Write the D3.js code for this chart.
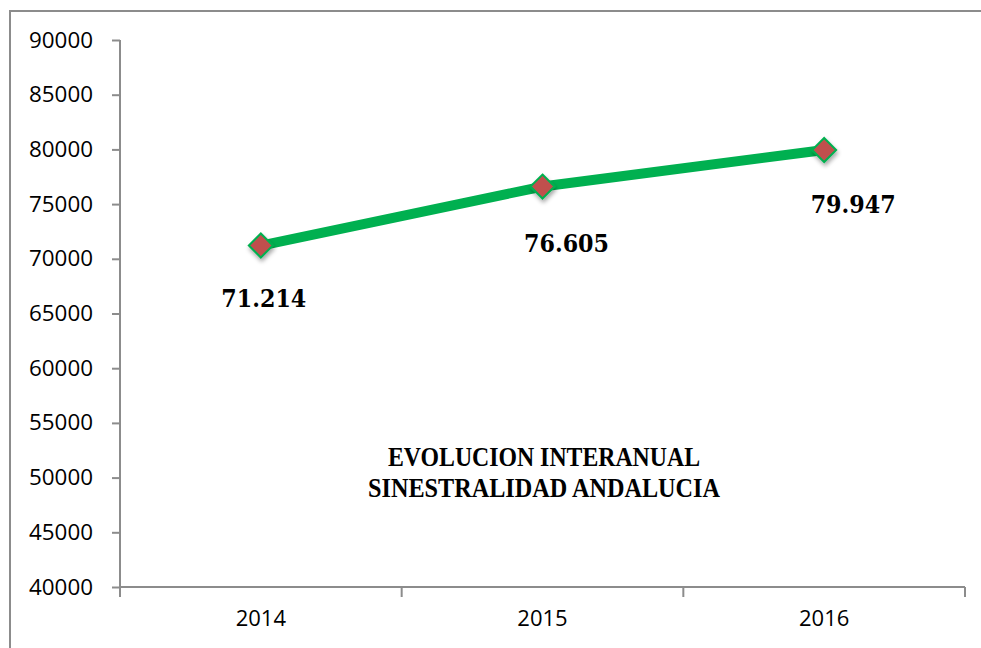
<!DOCTYPE html>
<html lang="es">
<meta charset="UTF-8">
<title>Evolucion interanual</title>
<script src="https://cdn.jsdelivr.net/npm/d3@7"></script>
<style>
  body { margin: 0; background: #fff; }
</style>
<body>
<svg id="chart" width="981" height="648"></svg>
<script>
// datos
var years = ["2014", "2015", "2016"];
var siniestros = [71214, 76605, 79947];
var valueLabels = ["71.214", "76.605", "79.947"];
var yTicks = [40000, 45000, 50000, 55000, 60000, 65000, 70000, 75000, 80000, 85000, 90000];
var titleLines = ["EVOLUCION INTERANUAL", "SINESTRALIDAD ANDALUCIA"];

var svg = d3.select("#chart");

// marco exterior (se sale por la derecha y por abajo)
svg.append("path")
  .attr("d", "M10,648 L10,11 L981,11")
  .attr("fill", "none")
  .attr("stroke", "#8c8c8c")
  .attr("stroke-width", 2);

// ojo: "top" es window.top, no usar ese nombre
var plotL = 120, plotR = 965, plotT = 40, plotB = 587;

var x = d3.scaleBand().domain(years).range([plotL, plotR]);
var y = d3.scaleLinear().domain([40000, 90000]).range([plotB, plotT]);

// eje Y
var yAxis = svg.append("g")
  .attr("transform", "translate(" + plotL + ",0)")
  .call(d3.axisLeft(y).tickValues(yTicks).tickSize(8).tickPadding(19).tickFormat(d3.format("d")));
yAxis.selectAll("path, line").attr("stroke", "#8c8c8c").attr("stroke-width", 2);
yAxis.select("path").attr("d", "M0," + plotT + "V" + plotB);
yAxis.selectAll("text")
  .attr("fill", "#000")
  .style("font-family", "'Open Sans', sans-serif")
  .style("font-size", "22px")
  .attr("textLength", 64)
  .attr("lengthAdjust", "spacingAndGlyphs");

// eje X
var xAxis = svg.append("g")
  .attr("transform", "translate(0," + plotB + ")")
  .call(d3.axisBottom(x).tickSize(0).tickPadding(23));
xAxis.select("path").attr("d", "M" + plotL + ",0H" + plotR).attr("stroke", "#8c8c8c").attr("stroke-width", 2);
xAxis.selectAll("text")
  .attr("fill", "#000")
  .style("font-family", "'Open Sans', sans-serif")
  .style("font-size", "22px");
// marcas entre categorias
var edges = years.map(function(d) { return x(d); }).concat([plotR]);
xAxis.selectAll(".sep")
  .data(edges)
  .enter()
  .append("line")
    .attr("x1", function(d) { return d; })
    .attr("x2", function(d) { return d; })
    .attr("y1", 0)
    .attr("y2", 10)
    .attr("stroke", "#8c8c8c")
    .attr("stroke-width", 2);

// sombra de los marcadores
var defs = svg.append("defs");
var f = defs.append("filter").attr("id", "sombra").attr("x", "-50%").attr("y", "-50%").attr("width", "200%").attr("height", "200%");
f.append("feDropShadow").attr("dx", 1).attr("dy", 3).attr("stdDeviation", 2).attr("flood-color", "#000").attr("flood-opacity", 0.35);

var cx = function(i) { return x(years[i]) + x.bandwidth() / 2; };

// linea
var line = d3.line()
  .x(function(d, i) { return cx(i); })
  .y(function(d) { return y(d); });

svg.append("path")
  .datum(siniestros)
  .attr("d", line)
  .attr("fill", "none")
  .attr("stroke", "#00b050")
  .attr("stroke-width", 10)
  .attr("stroke-linejoin", "round");

// marcadores rombo
svg.selectAll(".punto")
  .data(siniestros)
  .enter()
  .append("path")
    .attr("d", "M0,-12 L12,0 L0,12 L-12,0 Z")
    .attr("transform", function(d, i) { return "translate(" + cx(i) + "," + y(d) + ")"; })
    .attr("fill", "#c0504d")
    .attr("stroke", "#00b050")
    .attr("stroke-width", 2)
    .attr("filter", "url(#sombra)");

// etiquetas de valor
var labelDx = [3, 24, 29];
var labelDy = [61, 65, 63];
svg.selectAll(".valor")
  .data(siniestros)
  .enter()
  .append("text")
    .attr("x", function(d, i) { return cx(i) + labelDx[i]; })
    .attr("y", function(d, i) { return y(d) + labelDy[i]; })
    .attr("text-anchor", "middle")
    .style("font-family", "'DejaVu Serif', serif")
    .style("font-weight", "bold")
    .style("font-size", "25px")
    .attr("textLength", 85)
    .attr("lengthAdjust", "spacingAndGlyphs")
    .text(function(d, i) { return valueLabels[i]; });

// titulo
var titleW = [312, 352];
svg.selectAll(".titulo")
  .data(titleLines)
  .enter()
  .append("text")
    .attr("x", 544)
    .attr("y", function(d, i) { return 466 + i * 31; })
    .attr("text-anchor", "middle")
    .style("font-family", "'Liberation Serif', serif")
    .style("font-weight", "bold")
    .style("font-size", "27px")
    .attr("textLength", function(d, i) { return titleW[i]; })
    .attr("lengthAdjust", "spacingAndGlyphs")
    .text(function(d) { return d; });
</script>
</body>
</html>
